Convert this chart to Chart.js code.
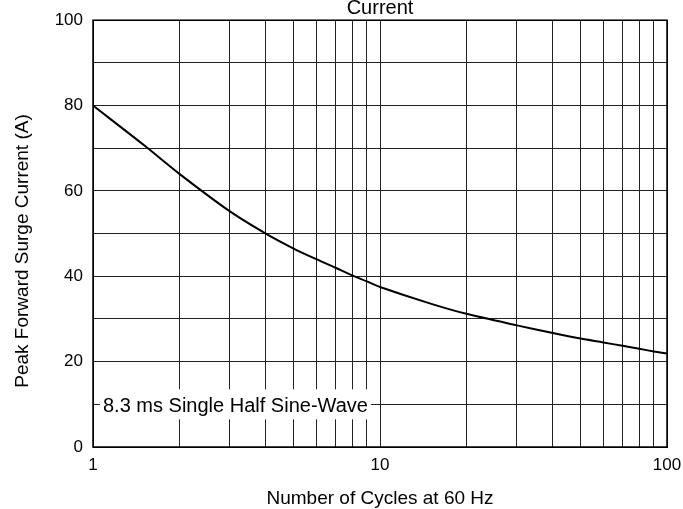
<!DOCTYPE html>
<html>
<head>
<meta charset="utf-8">
<script src="https://cdn.jsdelivr.net/npm/chart.js@4.4.0/dist/chart.umd.min.js"></script>
<style>
  html, body { margin: 0; padding: 0; background: #fff; }
  #wrap { width: 683px; height: 509px; }
</style>
</head>
<body>
<div id="wrap"><canvas id="surge-chart" width="683" height="509"></canvas></div>
<script>
// values
const cycles = [1, 1.5, 2, 3, 4, 5, 6, 7, 8, 9, 10, 15, 20, 30, 40, 50, 60, 70, 80, 90, 100];
const surgeAmps = [80, 70.8, 64, 55.2, 50, 46.5, 44, 42, 40.2, 38.8, 37.5, 33.6, 31.2, 28.5, 26.7, 25.4, 24.5, 23.7, 23, 22.4, 21.9];

const xTicks = [1, 2, 3, 4, 5, 6, 7, 8, 9, 10, 20, 30, 40, 50, 60, 70, 80, 90, 100];
const xLabels = [1, 10, 100];
const yLabels = [0, 20, 40, 60, 80, 100];

const titleText = 'Current';
const noteText = '8.3 ms Single Half Sine-Wave';
const xTitle = 'Number of Cycles at 60 Hz';
const yTitle = 'Peak Forward Surge Current (A)';

const FONT = 'Liberation Sans, Arial, sans-serif';

// draws the clipped title, both axis titles, the boxed note and the frame
const extras = {
    id: 'extras',
    afterDraw(chart) {
        const ctx = chart.ctx;
        const area = chart.chartArea;
        const xs = chart.scales.x;
        const ys = chart.scales.y;
        const midX = (area.left + area.right) / 2;
        ctx.save();
        ctx.fillStyle = '#000';
        ctx.font = '20px ' + FONT;
        ctx.textAlign = 'center';
        ctx.textBaseline = 'alphabetic';
        ctx.fillText(titleText, midX, 14);

        ctx.font = '19px ' + FONT;
        ctx.fillText(xTitle, midX, 504);

        ctx.save();
        ctx.translate(28, 251);
        ctx.rotate(-Math.PI / 2);
        ctx.fillText(yTitle, 0, 0);
        ctx.restore();

        // white note box over the grid
        ctx.font = '20px ' + FONT;
        const w = ctx.measureText(noteText).width;
        const x0 = xs.getPixelForValue(1) + 7;
        const yc = ys.getPixelForValue(10);
        ctx.fillStyle = '#fff';
        ctx.fillRect(x0, yc - 15, w + 6, 30);
        ctx.fillStyle = '#000';
        ctx.textAlign = 'left';
        ctx.textBaseline = 'middle';
        ctx.fillText(noteText, x0 + 3, yc + 2);

        ctx.strokeStyle = '#000';
        ctx.lineWidth = 1.5;
        ctx.strokeRect(area.left, area.top, area.right - area.left, area.bottom - area.top);
        ctx.restore();
    }
};

new Chart(document.getElementById('surge-chart'), {
    type: 'line',
    data: {
        datasets: [{
            label: 'Surge',
            data: cycles.map((c, i) => ({ x: c, y: surgeAmps[i] })),
            borderColor: '#000',
            borderWidth: 2,
            pointRadius: 0,
            tension: 0.3,
            fill: false
        }]
    },
    options: {
        responsive: false,
        animation: false,
        layout: { padding: { left: 0, right: 0, top: 19, bottom: 0 } },
        plugins: {
            legend: { display: false },
            tooltip: { enabled: false }
        },
        scales: {
            x: {
                type: 'logarithmic',
                min: 1,
                max: 100,
                afterBuildTicks: axis => { axis.ticks = xTicks.map(v => ({ value: v })); },
                afterFit: axis => {
                    axis.height = 62;
                    axis.paddingRight = 16;
                    axis.paddingLeft = 0;
                },
                grid: { color: '#222', lineWidth: 1, drawTicks: false },
                border: { color: '#000' },
                ticks: {
                    autoSkip: false,
                    maxRotation: 0,
                    padding: 8,
                    color: '#000',
                    font: { family: FONT, size: 17 },
                    callback: v => xLabels.includes(v) ? String(v) : ''
                },
                title: { display: false }
            },
            y: {
                min: 0,
                max: 100,
                afterFit: axis => { axis.width = 93; },
                grid: { color: '#222', lineWidth: 1, drawTicks: false },
                border: { color: '#000' },
                ticks: {
                    stepSize: 10,
                    padding: 10,
                    color: '#000',
                    font: { family: FONT, size: 17 },
                    callback: v => yLabels.includes(v) ? String(v) : ''
                },
                title: { display: false }
            }
        }
    },
    plugins: [extras]
});
</script>
</body>
</html>
